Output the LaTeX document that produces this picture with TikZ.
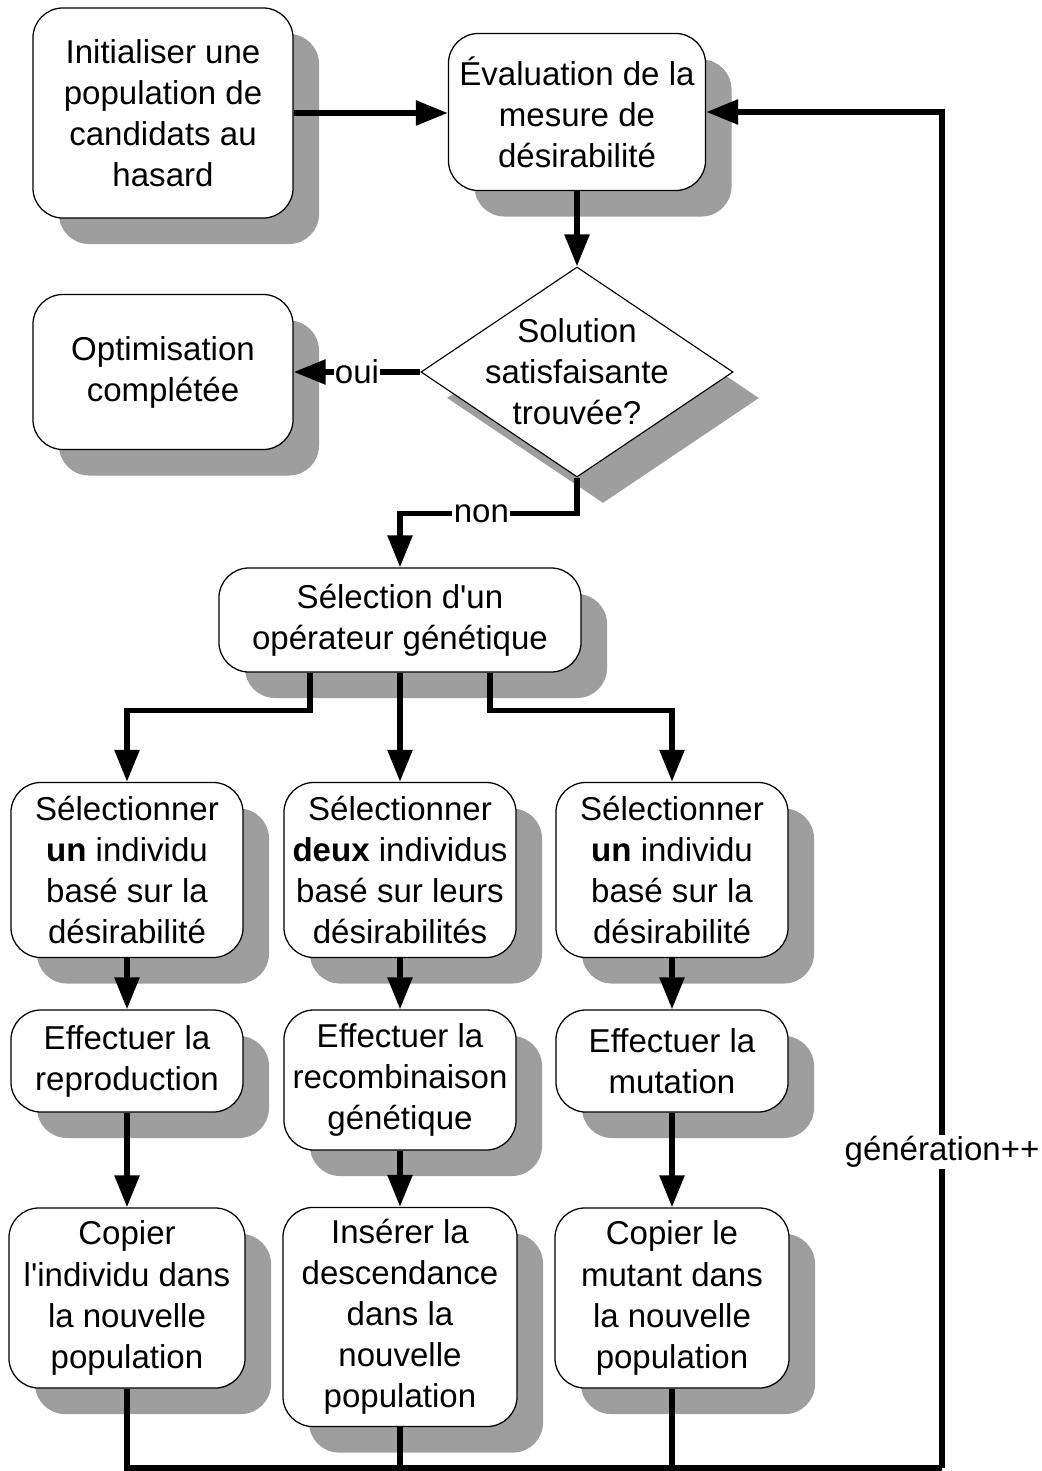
\documentclass[tikz,border=0pt]{standalone}
\usepackage{fontspec}
\setmainfont{Liberation Sans}
\usetikzlibrary{arrows.meta,calc,positioning,shapes.geometric,shadows}
\tikzset{
  ombre/.style={drop shadow={shadow xshift=0.65cm,shadow yshift=-0.65cm,fill=black!38,opacity=1}},
  texte/.style={align=center,inner sep=2pt,font=\fontsize{23.5}{29.2}\selectfont},
  boite/.style={texte,draw,line width=0.9pt,fill=white,rounded corners=0.75cm,ombre},
  losange/.style={diamond,draw,line width=0.8pt,fill=white,inner sep=0pt,ombre},
  fleche/.style={line width=4pt,-{Triangle[length=0.8cm,width=0.6cm]}},
  trait/.style={line width=3.6pt},
  etiq/.style={texte,fill=white,inner sep=1pt},
}
\begin{document}
\begin{tikzpicture}[x=0.025cm,y=-0.025cm]
\useasboundingbox (0,0) rectangle (1041,1471);
% ==========================================
\node (init) at (163,113) [boite,minimum width=6.5cm,minimum height=5.25cm] {Initialiser une\\population de\\candidats au\\hasard};
\node (eval) at (577,112) [boite,minimum width=6.425cm,minimum height=3.925cm] {Évaluation de la\\mesure de\\désirabilité};
%
\node (dec) at (577,372) [losange,minimum width=7.8cm,minimum height=5.25cm] {};
\node (dectxt) at (dec.center) [texte] {Solution\\satisfaisante\\trouvée?};
%
\node (optim) at (163,372) [boite,minimum width=6.5cm,minimum height=3.875cm] {Optimisation\\complétée};
%
\node (selop) at (400,620) [boite,minimum width=9.05cm,minimum height=2.6cm] {Sélection d\textquotesingle un\\opérateur génétique};
% ==========================================
\node (selA) at (127,870) [boite,minimum width=5.8cm,minimum height=4.375cm] {Sélectionner\\\textbf{un} individu\\basé sur la\\désirabilité};
\node (selB) at (400,870) [boite,minimum width=5.8cm,minimum height=4.375cm] {Sélectionner\\\textbf{deux} individus\\basé sur leurs\\désirabilités};
\node (selC) at (672,870) [boite,minimum width=5.8cm,minimum height=4.375cm] {Sélectionner\\\textbf{un} individu\\basé sur la\\désirabilité};
%
\node (effA) at (127,1061) [boite,minimum width=5.8cm,minimum height=2.55cm] {Effectuer la\\reproduction};
\node (effB) at (400,1080) [boite,minimum width=5.8cm,minimum height=3.5cm] {Effectuer la\\recombinaison\\génétique};
\node (effC) at (672,1061) [boite,minimum width=5.8cm,minimum height=2.55cm] {Effectuer la\\mutation};
%
\node (copA) at (127,1298) [boite,minimum width=5.9cm,minimum height=4.5cm] {Copier\\l\textquotesingle individu dans\\la nouvelle\\population};
\node (copB) at (400,1317) [boite,minimum width=5.85cm,minimum height=5.475cm] {Insérer la\\descendance\\dans la\\nouvelle\\population};
\node (copC) at (672,1298) [boite,minimum width=5.85cm,minimum height=4.5cm] {Copier le\\mutant dans\\la nouvelle\\population};
% ==========================================
\draw[fleche] (init.east) -- (init.east -| eval.west);
\draw[fleche] (eval.south) -- (dec.north);
\draw[fleche] (dec.west) -- node[etiq]{oui} (optim.east);
%
\path (selop.north) ++(0,-54) coordinate (nonbend);
\draw[fleche] (dec.south) |- node[etiq,pos=0.77]{non} (nonbend) -- (selop.north);
%
\draw[fleche] ([xshift=-2.25cm]selop.south) -- ++(0,38) -| (selA.north);
\draw[fleche] (selop.south) -- (selB.north);
\draw[fleche] ([xshift=2.25cm]selop.south) -- ++(0,38) -| (selC.north);
%
\foreach \c in {A,B,C} {
  \draw[fleche] (sel\c.south) -- (eff\c.north);
  \draw[fleche] (eff\c.south) -- (cop\c.north);
}
% ==========================================
\coordinate (base) at (942,1468);
\draw[trait] (copA.south) |- (base);
\draw[trait] (copB.south) -- (copB.south |- base);
\draw[trait] (copC.south) -- (copC.south |- base);
\draw[fleche] (base) -- node[etiq,pos=0.233]{génération++} (eval.east -| base) -- (eval.east);
% ==========================================
\end{tikzpicture}
\end{document}
